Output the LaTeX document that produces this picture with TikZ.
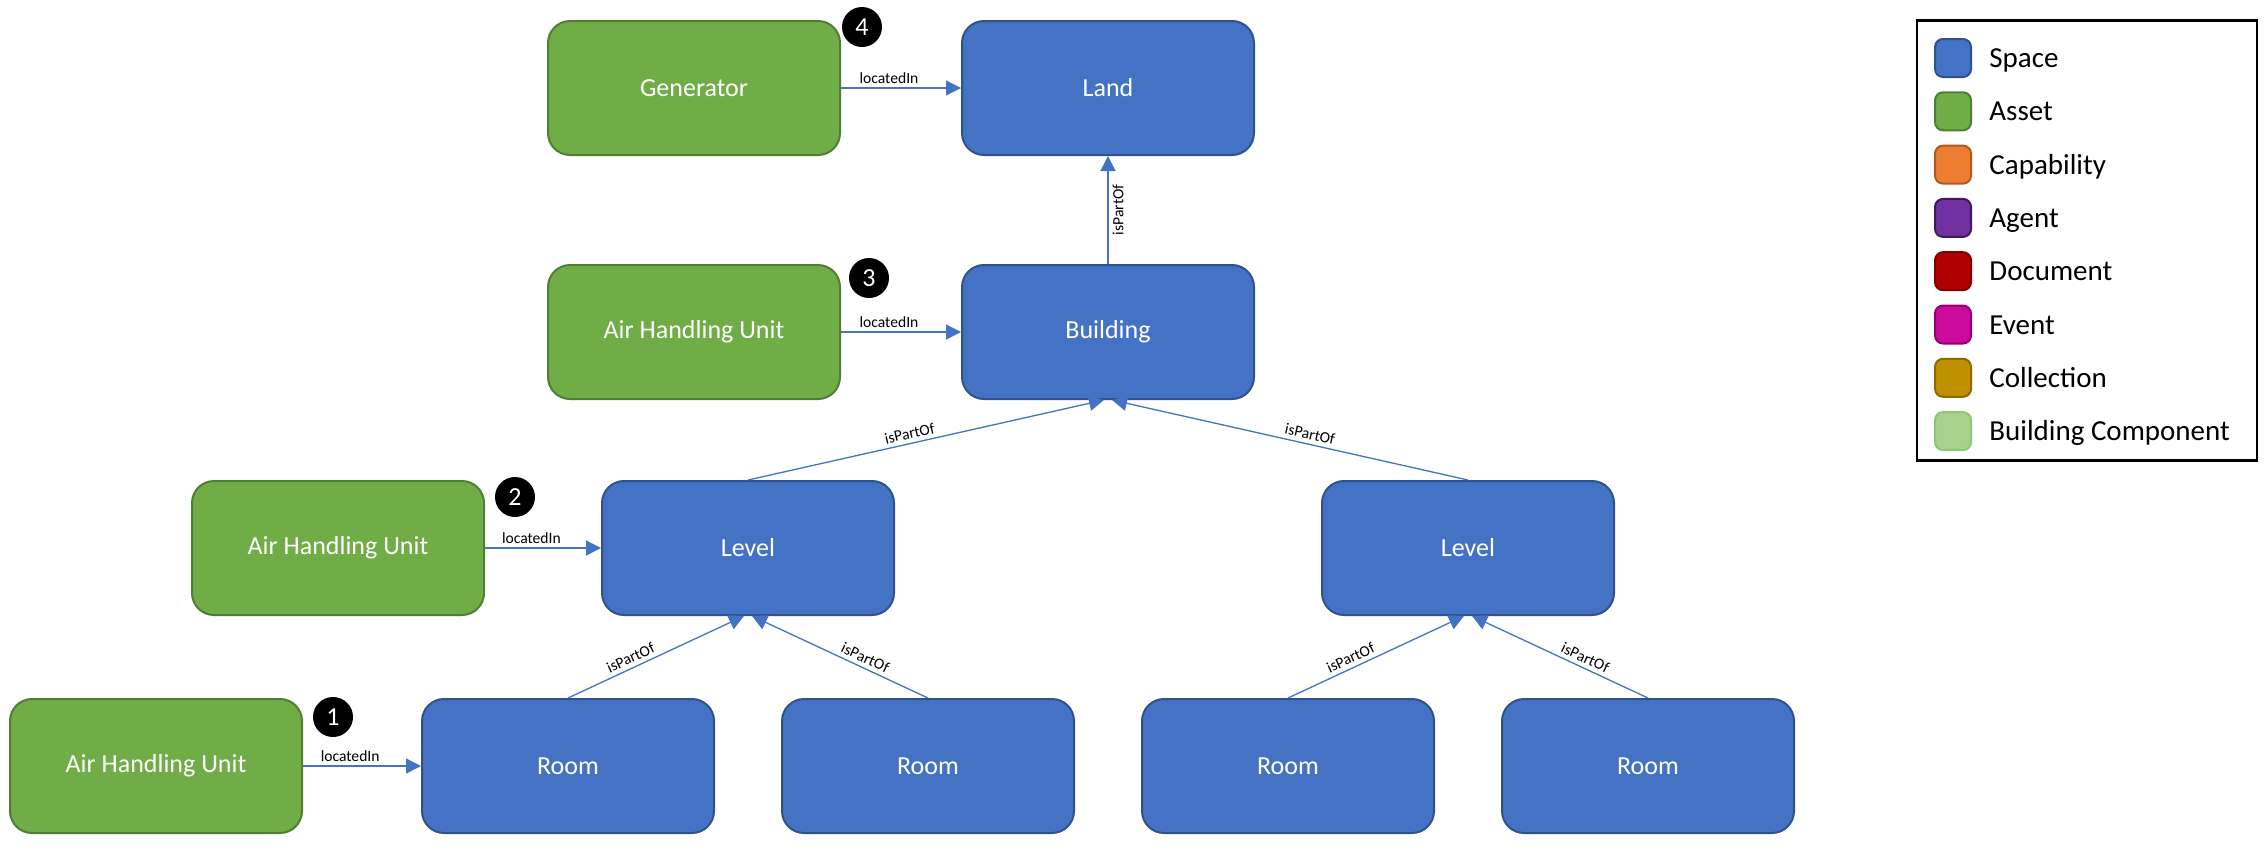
\documentclass[tikz,border=0pt]{standalone}
\usepackage{fontspec}
\setmainfont{Carlito}
\usetikzlibrary{arrows.meta}
\definecolor{spacefill}{HTML}{4472C4}
\definecolor{spacedraw}{HTML}{2F528F}
\definecolor{assetfill}{HTML}{70AD47}
\definecolor{assetdraw}{HTML}{507E32}
\definecolor{capfill}{HTML}{ED7D31}
\definecolor{capdraw}{HTML}{AE5A21}
\definecolor{agentfill}{HTML}{7030A0}
\definecolor{agentdraw}{HTML}{3F1A5C}
\definecolor{docfill}{HTML}{B00000}
\definecolor{docdraw}{HTML}{800000}
\definecolor{eventfill}{HTML}{CC0A9E}
\definecolor{eventdraw}{HTML}{930070}
\definecolor{collfill}{HTML}{BF9000}
\definecolor{colldraw}{HTML}{8C6A00}
\definecolor{bcfill}{HTML}{A9D18E}
\definecolor{bcdraw}{HTML}{8DC870}
\definecolor{linkblue}{HTML}{4472C4}
\tikzset{
  entity/.style={rounded corners=11pt, line width=1pt, minimum width=146pt, minimum height=67pt,
    inner sep=0pt, text=white, font=\fontsize{13}{15}\selectfont},
  spacebox/.style={entity, fill=spacefill, draw=spacedraw},
  assetbox/.style={entity, fill=assetfill, draw=assetdraw},
  rel/.style={draw=linkblue, line width=0.65pt, -{Triangle[length=7.5pt,width=7.5pt]}},
  lbl/.style={font=\fontsize{7.8}{9}\selectfont, text=black, inner sep=2pt},
  badge/.style={circle, fill=black, text=white, minimum size=20pt, inner sep=0pt,
    font=\fontsize{13}{15}\selectfont},
  legsq/.style={rounded corners=4pt, line width=1pt, minimum width=18pt, minimum height=19pt, inner sep=0pt},
  legtxt/.style={anchor=base west, inner sep=0pt, font=\fontsize{14.5}{16}\selectfont, text=black},
}
\begin{document}
\begin{tikzpicture}[x=0.5pt, y=-0.5pt]
\useasboundingbox (0,0) rectangle (2268,847);
% Spaces
\node[spacebox] (land) at (1108,88) {Land};
\node[spacebox] (bldg) at (1108,332) {Building};
\node[spacebox] (lvl1) at (748,548) {Level};
\node[spacebox] (lvl2) at (1468,548) {Level};
\node[spacebox] (room1) at (568,766) {Room};
\node[spacebox] (room2) at (928,766) {Room};
\node[spacebox] (room3) at (1288,766) {Room};
\node[spacebox] (room4) at (1648,766) {Room};
% Assets
\node[assetbox] (gen) at (694,88) {Generator};
\node[assetbox] (ahu3) at (694,332) {Air Handling Unit};
\node[assetbox] (ahu2) at (338,548) {Air Handling Unit};
\node[assetbox] (ahu1) at (156,766) {Air Handling Unit};
% Badges
\node[badge] (b4) at (862,27) {4};
\node[badge] (b3) at (869,278) {3};
\node[badge] (b2) at (515,497) {2};
\node[badge] (b1) at (333,717) {1};
% locatedIn
\draw[rel] (gen) -- node[lbl, pos=0.4, above] {locatedIn} (land);
\draw[rel] (ahu3) -- node[lbl, pos=0.4, above] {locatedIn} (bldg);
\draw[rel] (ahu2) -- node[lbl, pos=0.4, above] {locatedIn} (lvl1);
\draw[rel] (ahu1) -- node[lbl, pos=0.4, above] {locatedIn} (room1);
% isPartOf
\draw[rel] (bldg.north) -- node[lbl, midway, rotate=90, anchor=north] {isPartOf} (land.south);
\draw[rel] (lvl1.north) -- node[lbl, pos=0.46, sloped, above] {isPartOf} ([xshift=-2pt]bldg.south);
\draw[rel] (lvl2.north) -- node[lbl, pos=0.45, sloped, above] {isPartOf} ([xshift=2pt]bldg.south);
\draw[rel] (room1.north) -- node[lbl, pos=0.38, sloped, above] {isPartOf} ([xshift=-2pt]lvl1.south);
\draw[rel] (room2.north) -- node[lbl, pos=0.38, sloped, above] {isPartOf} ([xshift=2pt]lvl1.south);
\draw[rel] (room3.north) -- node[lbl, pos=0.38, sloped, above] {isPartOf} ([xshift=-2pt]lvl2.south);
\draw[rel] (room4.north) -- node[lbl, pos=0.38, sloped, above] {isPartOf} ([xshift=2pt]lvl2.south);
% Legend
\node[draw=black, line width=1.4pt, minimum width=170pt, minimum height=220pt, inner sep=0pt] (legend) at (2087,240.5) {};
\node[legsq, fill=spacefill, draw=spacedraw] (l1) at (1953,58) {};
\node[legsq, fill=assetfill, draw=assetdraw] (l2) at (1953,111.3) {};
\node[legsq, fill=capfill, draw=capdraw] (l3) at (1953,164.6) {};
\node[legsq, fill=agentfill, draw=agentdraw] (l4) at (1953,217.9) {};
\node[legsq, fill=docfill, draw=docdraw] (l5) at (1953,271.2) {};
\node[legsq, fill=eventfill, draw=eventdraw] (l6) at (1953,324.5) {};
\node[legsq, fill=collfill, draw=colldraw] (l7) at (1953,377.8) {};
\node[legsq, fill=bcfill, draw=bcdraw] (l8) at (1953,431.1) {};
\node[legtxt] (t1) at (1989,67.5) {Space};
\node[legtxt] (t2) at (1989,120.8) {Asset};
\node[legtxt] (t3) at (1989,174.1) {Capability};
\node[legtxt] (t4) at (1989,227.4) {Agent};
\node[legtxt] (t5) at (1989,280.7) {Document};
\node[legtxt] (t6) at (1989,334) {Event};
\node[legtxt] (t7) at (1989,387.3) {Collection};
\node[legtxt] (t8) at (1989,440.6) {Building Component};
\end{tikzpicture}
\end{document}
